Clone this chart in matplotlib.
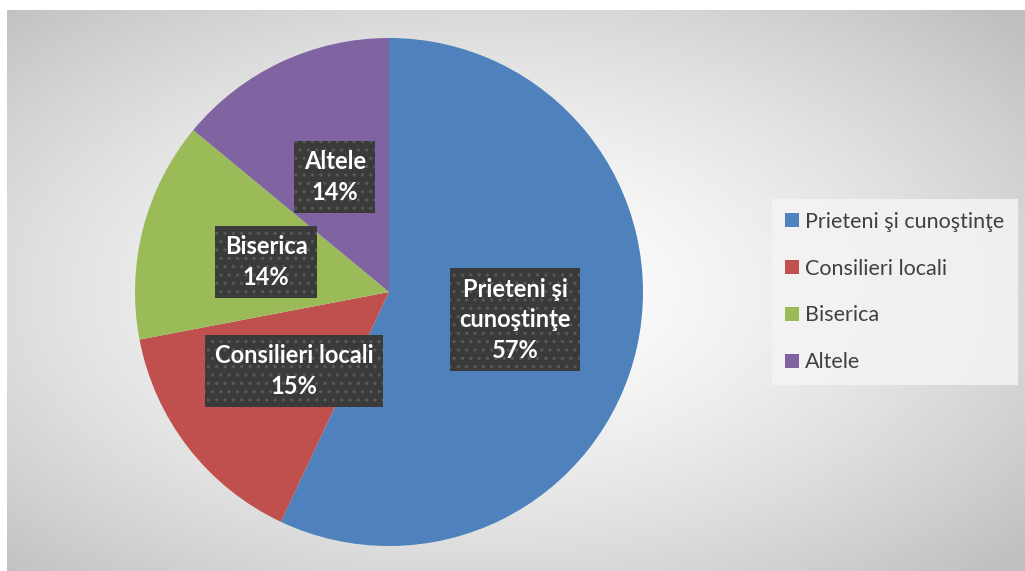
import numpy as np
import matplotlib
matplotlib.use("Agg")
import matplotlib.pyplot as plt
from matplotlib.patches import Patch

categories = ["Prieteni şi cunoştinţe", "Consilieri locali", "Biserica", "Altele"]
values = [57, 15, 14, 14]
box_labels = ["Prieteni şi\ncunoştinţe\n57%", "Consilieri locali\n15%", "Biserica\n14%", "Altele\n14%"]
colors = ["#4F81BD", "#C0504D", "#9BBB59", "#8064A2"]

plt.rcParams["hatch.linewidth"] = 1.2

W, H = 1025, 571
fig = plt.figure(figsize=(W / 100, H / 100), dpi=100)
fig.patch.set_facecolor("white")

# background radial gradient
bg = fig.add_axes([7 / W, 0, 1 - 7 / W, (H - 10) / H])
ny, nx = 300, 540
yy, xx = np.mgrid[0:ny, 0:nx]
cx, cy = nx * 0.47, ny * 0.5
r = np.sqrt(((xx - cx) / (nx * 0.5)) ** 2 + ((yy - cy) / (ny * 0.5)) ** 2) / np.sqrt(2)
v = 1.0 - 0.25 * np.clip(r, 0, 1) ** 1.5
img = np.dstack([v, v, v])
bg.imshow(img, aspect="auto", extent=[0, 1, 0, 1], interpolation="bilinear")
bg.set_axis_off()

# pie
R = 254
cxp, cyp = 389, H - 292
half = R * 1.025
ax = fig.add_axes([(cxp - half) / W, (cyp - half) / H, 2 * half / W, 2 * half / H])
wedges, _ = ax.pie(values, colors=colors, startangle=90, counterclock=False, radius=1)
ax.set_xlim(-1.025, 1.025)
ax.set_ylim(-1.025, 1.025)
ax.set_aspect("equal")
ax.set_axis_off()

pos = [(0.496, -0.11), (-0.374, -0.311), (-0.484, 0.118), (-0.213, 0.453)]
for (x, y), lab in zip(pos, box_labels):
    ax.text(x, y, lab, ha="center", va="center", color="white", fontsize=17,
            fontweight="bold", family=["Lato", "DejaVu Sans"], linespacing=1.4,
            bbox=dict(boxstyle="square,pad=0.4", facecolor="#3a3a3a",
                      edgecolor="#575757", hatch="..", linewidth=0))

handles = [Patch(facecolor=c, edgecolor="none") for c in colors]
leg = fig.legend(handles, categories, loc="center left",
                 bbox_to_anchor=(772 / W, 1 - 292 / H), frameon=True,
                 prop=dict(family=["Lato", "DejaVu Sans"], size=15.5),
                 labelcolor="#404040", handlelength=0.65, handleheight=0.65,
                 handletextpad=0.3, labelspacing=1.25, borderpad=0.6,
                 borderaxespad=0, fancybox=False)
leg.get_frame().set_facecolor("#f4f4f4")
leg.get_frame().set_alpha(0.85)
leg.get_frame().set_edgecolor("none")

fig.savefig("out.png", dpi=100)
